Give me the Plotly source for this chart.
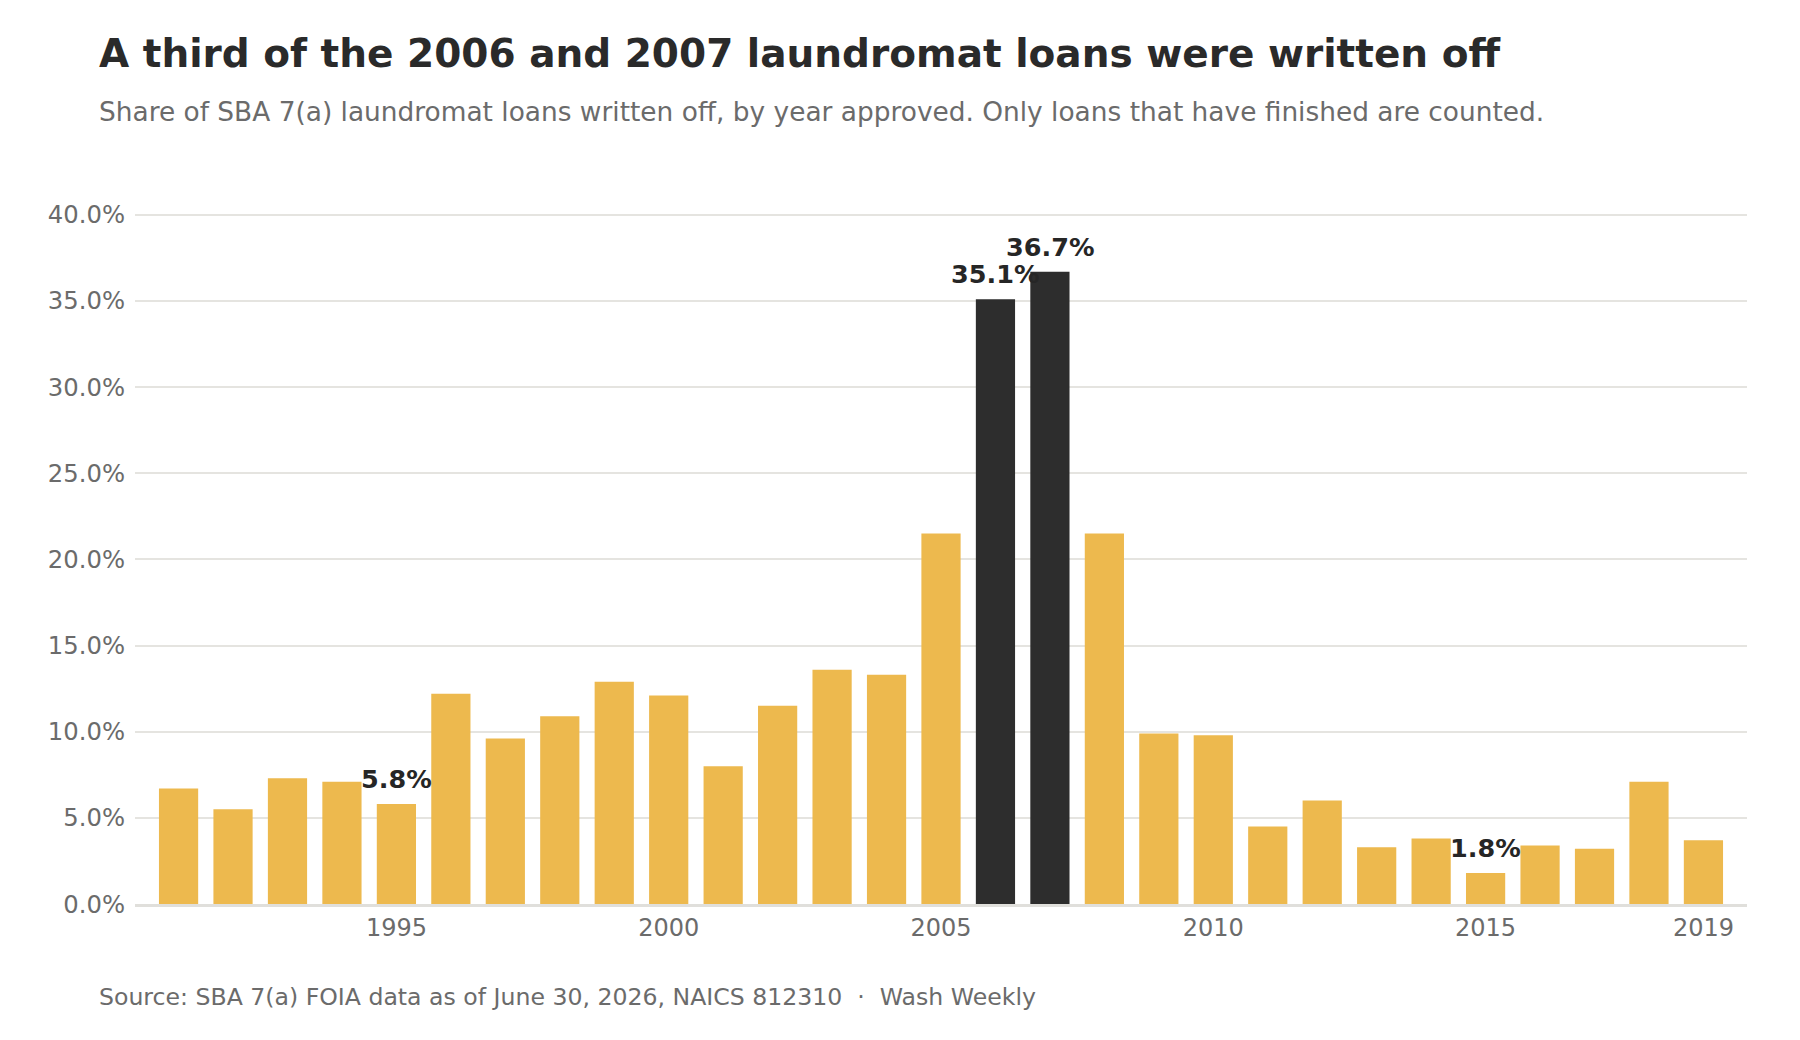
import plotly.graph_objects as go

years = list(range(1991, 2020))
writeoff_pct = [6.7, 5.5, 7.3, 7.1, 5.8, 12.2, 9.6, 10.9, 12.9, 12.1,
                8.0, 11.5, 13.6, 13.3, 21.5, 35.1, 36.7, 21.5, 9.9, 9.8,
                4.5, 6.0, 3.3, 3.8, 1.8, 3.4, 3.2, 7.1, 3.7]
highlight_years = [2006, 2007]
labeled_years = [1995, 2006, 2007, 2015]
tick_years = [1995, 2000, 2005, 2010, 2015, 2019]
y_ticks = [0, 5, 10, 15, 20, 25, 30, 35, 40]

GOLD = "#EDB94E"
DARK = "#2D2D2D"
FONT = "DejaVu Sans"

W, H = 1792, 1032
L, R, T, B = 127, 53, 193, 136
PW, PH = W - L - R, H - T - B

colors = [DARK if y in highlight_years else GOLD for y in years]

fig = go.Figure()
fig.add_trace(go.Bar(
    x=years, y=writeoff_pct, marker=dict(color=colors, line=dict(width=0)),
    width=0.72, hoverinfo="x+y", showlegend=False,
))

for yr, v in zip(years, writeoff_pct):
    if yr in labeled_years:
        fig.add_annotation(x=yr, y=v, text=f"<b>{v:.1f}%</b>", showarrow=False,
                           yanchor="bottom", yshift=8,
                           font=dict(family=FONT, size=25.5, color="#262626"))

fig.update_layout(
    width=W, height=H,
    paper_bgcolor="white", plot_bgcolor="white",
    margin=dict(l=L, r=R, t=T, b=B),
    font=dict(family=FONT, color="#666666"),
)
fig.update_xaxes(range=[1990.2, 2019.8], tickvals=tick_years,
                 ticktext=[str(t) for t in tick_years],
                 tickfont=dict(size=24, color="#6b6b6b"), showgrid=False,
                 showline=True, linecolor="#e0dfdb", linewidth=3,
                 ticks="", ticklabelstandoff=0, zeroline=False)
fig.update_yaxes(range=[0, 40.8], tickvals=y_ticks,
                 ticktext=[f"{t:.1f}%" for t in y_ticks],
                 tickfont=dict(size=24.3, color="#6b6b6b"),
                 showgrid=True, gridcolor="#e5e4e0", gridwidth=2,
                 zeroline=False, showline=False, ticks="", ticklabelstandoff=9)

text_x = -(L - 89) / PW
fig.add_annotation(xref="paper", yref="paper", x=text_x, y=1 + (T - 46) / PH,
                   xanchor="left", yanchor="middle", showarrow=False,
                   text="<b>A third of the 2006 and 2007 laundromat loans were written off</b>",
                   font=dict(family=FONT, size=39, color="#2a2a2a"))
fig.add_annotation(xref="paper", yref="paper", x=text_x, y=1 + (T - 103) / PH,
                   xanchor="left", yanchor="middle", showarrow=False,
                   text="Share of SBA 7(a) laundromat loans written off, by year approved. Only loans that have finished are counted.",
                   font=dict(family=FONT, size=26.4, color="#6b6b6b"))
fig.add_annotation(xref="paper", yref="paper", x=text_x, y=-(988.5 - (H - B)) / PH,
                   xanchor="left", yanchor="middle", showarrow=False,
                   text="Source: SBA 7(a) FOIA data as of June 30, 2026, NAICS 812310  ·  Wash Weekly",
                   font=dict(family=FONT, size=23.6, color="#6b6b6b"))

fig.write_html("out.html")
